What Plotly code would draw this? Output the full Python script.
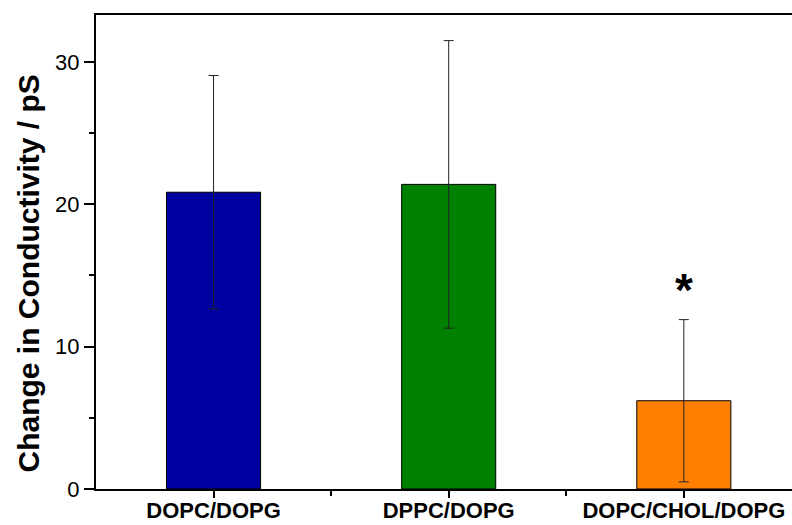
import plotly.graph_objects as go

categories = ["DOPC/DOPG", "DPPC/DOPG", "DOPC/CHOL/DOPG"]
means = [20.85, 21.4, 6.2]
errors = [8.2, 10.1, 5.7]
significance = ["", "", "*"]
colors = ["#0000A0", "#008000", "#FF8000"]
y_ticks = [0, 10, 20, 30]
y_title = "Change in Conductivity / pS"

xpos = list(range(1, len(categories) + 1))

W, H = 792, 525
ML, MR, MT, MB = 96, 0, 15, 36
pw, ph = W - ML - MR, H - MT - MB

fig = go.Figure()
fig.add_trace(go.Bar(
    x=xpos, y=means, width=0.4,
    marker=dict(color=colors, line=dict(color="black", width=1)),
    error_y=dict(type="data", array=errors, visible=True,
                 color="#222222", thickness=1, width=5),
    showlegend=False,
))

for xp, m, e, s in zip(xpos, means, errors, significance):
    if s:
        fig.add_annotation(x=xp, y=m + e + 2.1, text=f"<b>{s}</b>", showarrow=False,
                           font=dict(family="Liberation Sans", size=46, color="black"),
                           xanchor="center", yanchor="middle")

# y-axis title as rotated annotation
fig.add_annotation(xref="paper", yref="paper",
                   x=(28 - ML) / pw, y=(H - MB - 273.5) / ph,
                   text=f"<b>{y_title}</b>", textangle=-90, showarrow=False,
                   font=dict(family="Liberation Sans", size=30, color="black"),
                   xanchor="center", yanchor="middle")

fig.update_layout(
    width=W, height=H,
    margin=dict(l=ML, r=MR, t=MT, b=MB),
    paper_bgcolor="white", plot_bgcolor="white",
    font=dict(family="Liberation Sans", color="black"),
    xaxis=dict(
        range=[0.5, 3.46], automargin=False,
        tickmode="array", tickvals=xpos, ticktext=[f"<b>{c}</b>" for c in categories],
        ticks="outside", ticklen=7, tickwidth=1.5, tickcolor="black",
        ticklabelstandoff=-6,
        showline=True, linecolor="black", linewidth=2, mirror=True,
        showgrid=False, zeroline=False,
        tickfont=dict(size=22, family="Liberation Sans"),
        minor=dict(tickmode="array", tickvals=[1.5, 2.5], ticks="outside",
                   ticklen=5, tickwidth=1.5, tickcolor="black", showgrid=False),
    ),
    yaxis=dict(
        range=[0, 33.3], automargin=False,
        tickmode="array", tickvals=y_ticks,
        ticks="outside", ticklen=10, tickwidth=1.5, tickcolor="black",
        showline=True, linecolor="black", linewidth=2, mirror=False,
        showgrid=False, zeroline=False,
        tickfont=dict(size=22, family="Liberation Sans"),
        minor=dict(tickmode="array", tickvals=[5, 15, 25], ticks="outside",
                   ticklen=5, tickwidth=1.5, tickcolor="black", showgrid=False),
    ),
)

fig.write_html("out.html")
